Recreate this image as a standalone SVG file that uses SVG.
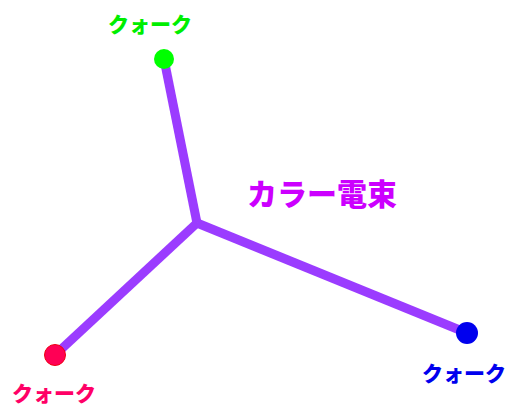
<svg xmlns="http://www.w3.org/2000/svg" width="510" height="407" viewBox="0 0 510 407">
<style>
.flux{stroke:#9b3cff;stroke-width:9;stroke-linecap:butt;fill:none}
.lbl{font-family:"Noto Sans CJK JP","Noto Sans",sans-serif;font-weight:900}
.q{font-size:21px}
</style>
<rect width="510" height="407" fill="#ffffff"/>
<g id="connectors">
<line class="flux" x1="197" y1="223" x2="164" y2="59"/>
<line class="flux" x1="197" y1="223" x2="55" y2="355"/>
<line class="flux" x1="197" y1="223" x2="467" y2="333"/>
</g>
<g id="quark-green">
<circle cx="164" cy="59" r="10" fill="#00ff00"/>
<text class="lbl q" x="150" y="32" text-anchor="middle" fill="#00ee00">クォーク</text>
</g>
<g id="quark-red">
<circle cx="55" cy="355" r="10.5" fill="#ff0055" stroke="#ee0011" stroke-width="1"/>
<text class="lbl q" x="54" y="401" text-anchor="middle" fill="#ff0066">クォーク</text>
</g>
<g id="quark-blue">
<circle cx="467" cy="333" r="11" fill="#0000ee"/>
<text class="lbl q" x="464" y="381" text-anchor="middle" fill="#0000ee">クォーク</text>
</g>
<g id="label-flux">
<text class="lbl" x="322" y="205" font-size="30" text-anchor="middle" fill="#cc00ff">カラー電束</text>
</g>
</svg>
